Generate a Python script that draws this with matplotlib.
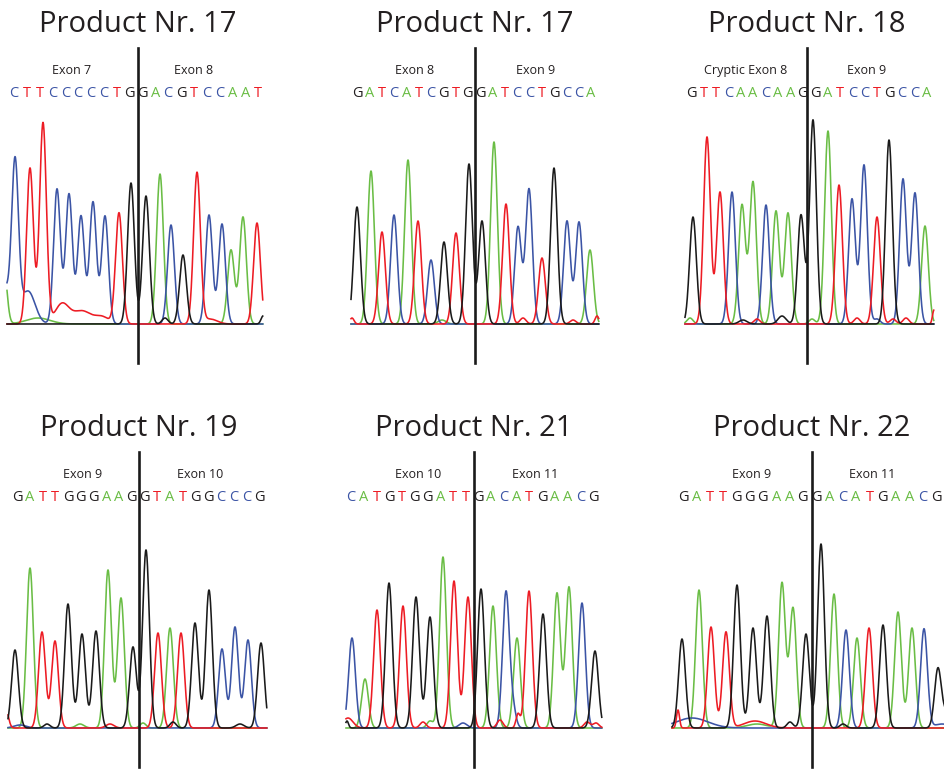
import numpy as np
import matplotlib.pyplot as plt

plt.rcParams['font.family'] = ['Open Sans', 'DejaVu Sans']

# base -> trace colour
colors = {'A': '#6abd45', 'C': '#3b54a5', 'G': '#1a1a1a', 'T': '#ed1c24'}
txt_col = '#231f20'

titles = ['Product Nr. 17', 'Product Nr. 17', 'Product Nr. 18',
          'Product Nr. 19', 'Product Nr. 21', 'Product Nr. 22']
exons = [('Exon 7', 'Exon 8'), ('Exon 8', 'Exon 9'), ('Cryptic Exon 8', 'Exon 9'),
         ('Exon 9', 'Exon 10'), ('Exon 10', 'Exon 11'), ('Exon 9', 'Exon 11')]
seqs = ['CTTCCCCCTGGACGTCCAAT',
        'GATCATCGTGGATCCTGCCA',
        'GTTCAACAAGGATCCTGCCA',
        'GATTGGGAAGGTATGGCCCG',
        'CATGTGGATTGACATGAACG',
        'GATTGGGAAGGACATGAACG']

# peak positions (scan) and heights, one per called base
pos1 = [15, 30, 43, 57, 69, 81, 93, 105, 119, 131, 146, 160, 171, 183, 197, 209, 222, 231, 243, 257]
hgt1 = [160, 156, 201, 135, 130, 108, 122, 108, 111, 141, 128, 150, 99, 69, 151, 109, 100, 74, 107, 101]
pos2 = [37, 51, 62, 74, 88, 98, 111, 124, 136, 149, 162, 174, 186, 198, 209, 222, 234, 247, 259, 270]
hgt2 = [117, 153, 92, 109, 164, 103, 64, 82, 91, 160, 103, 182, 120, 97, 135, 66, 156, 103, 102, 74]
pos3 = [63, 77, 90, 102, 112, 123, 136, 146, 158, 171, 183, 198, 209, 222, 234, 247, 259, 273, 285, 295]
hgt3 = [107, 187, 132, 132, 119, 142, 119, 113, 111, 109, 204, 193, 139, 125, 159, 107, 184, 145, 131, 98]
pos4 = [15, 30, 42, 55, 68, 82, 96, 108, 121, 133, 146, 158, 170, 181, 195, 209, 222, 235, 248, 261]
hgt4 = [78, 160, 96, 87, 124, 94, 97, 158, 130, 81, 178, 95, 100, 95, 105, 138, 79, 101, 88, 85]
pos5 = [32, 45, 57, 69, 83, 96, 110, 123, 134, 148, 161, 173, 186, 197, 209, 223, 237, 249, 262, 275]
hgt5 = [90, 49, 118, 145, 122, 131, 111, 171, 147, 131, 139, 122, 136, 90, 137, 114, 135, 141, 125, 77]
pos6 = [52, 69, 81, 96, 107, 123, 137, 152, 163, 176, 191, 204, 216, 227, 239, 253, 268, 282, 294, 308]
hgt6 = [89, 138, 101, 96, 143, 100, 112, 145, 120, 94, 184, 134, 98, 90, 100, 103, 116, 100, 99, 60]

# background signal: (base, position, height, width)
noise1 = [('C', 28, 33, 7), ('C', 5, 35, 4), ('A', 4, 55, 3), ('A', 38, 6, 12),
          ('T', 62, 20, 7), ('T', 82, 13, 9), ('T', 102, 7, 7), ('G', 165, 6, 3),
          ('T', 210, 5, 7), ('G', 263, 8, 2)]
noise2 = [('T', 32, 6, 2), ('A', 122, 4, 4), ('T', 203, 6, 3), ('T', 253, 4, 3),
          ('T', 277, 8, 2)]
noise3 = [('A', 60, 6, 3), ('G', 113, 4, 4), ('T', 127, 5, 3), ('G', 152, 8, 4),
          ('A', 182, 5, 3), ('T', 227, 6, 3), ('C', 247, 5, 3), ('T', 263, 5, 3),
          ('T', 276, 6, 3), ('T', 304, 14, 1.5)]
noise4 = [('T', 6, 18, 2.5), ('C', 20, 3, 6), ('G', 47, 4, 3), ('A', 80, 4, 4),
          ('T', 110, 4, 4), ('A', 143, 5, 3), ('G', 173, 6, 3), ('G', 240, 4, 4)]
noise5 = [('T', 28, 10, 5), ('G', 27, 7, 1.5), ('T', 103, 6, 3), ('A', 110, 7, 3),
          ('C', 143, 5, 4), ('T', 180, 8, 3), ('C', 193, 18, 3), ('T', 198, 14, 2),
          ('T', 267, 6, 3), ('T', 276, 5, 3)]
noise6 = [('C', 62, 10, 16), ('T', 48, 18, 1.5), ('T', 125, 7, 11), ('A', 127, 4, 10),
          ('G', 160, 6, 3), ('G', 213, 4, 3), ('C', 312, 4, 8), ('G', 316, 14, 3)]

positions = [pos1, pos2, pos3, pos4, pos5, pos6]
heights = [hgt1, hgt2, hgt3, hgt4, hgt5, hgt6]
noises = [noise1, noise2, noise3, noise4, noise5, noise6]

# layout in pixels
W, H = 945, 770
col_x0 = [0, 320, 630]
row_base = [324, 728]
row_top = [0, 404]
row_bot = [369, 770]
trace_span = [(7, 263), (31, 279), (55, 304), (8, 267), (26, 282), (42, 315)]
seq_span = [(14, 258), (37, 271), (61, 297), (17, 259), (31, 273), (53, 306)]
split_x = [138, 155, 177, 139, 154, 182]
exon_x = [(72, 194), (95, 216), (116, 237), (83, 200), (98, 215), (122, 242)]
sigma = 3.4

fig = plt.figure(figsize=(W / 100, H / 100), dpi=100)

for i in range(6):
    r, c = divmod(i, 3)
    x0, base = col_x0[c], row_base[r]
    top, bot = row_top[r], row_bot[r]
    ax = fig.add_axes([x0 / W, 1 - bot / H, 315 / W, (bot - top) / H])
    ax.set_xlim(0, 315)
    ax.set_ylim(base - bot, base - top)
    ax.axis('off')

    xs = np.arange(trace_span[i][0], trace_span[i][1], 0.25)
    for b in 'ACTG':
        y = np.zeros_like(xs)
        for letter, p, h in zip(seqs[i], positions[i], heights[i]):
            if letter == b:
                y += h * np.exp(-(xs - p) ** 2 / (2 * sigma ** 2))
        for nb, p, h, w in noises[i]:
            if nb == b:
                y += h * np.exp(-(xs - p) ** 2 / (2 * w ** 2))
        ax.plot(xs, y, color=colors[b], lw=1.15, solid_joinstyle='round')

    sx = split_x[i]
    ax.plot([sx, sx], [-39, 276], color='#1a1a1a', lw=1.9)
    ax.text(sx, 292, titles[i], ha='center', va='baseline', fontsize=21, color=txt_col)
    ax.text(exon_x[i][0], 250, exons[i][0], ha='center', va='baseline', fontsize=9, color=txt_col)
    ax.text(exon_x[i][1], 250, exons[i][1], ha='center', va='baseline', fontsize=9, color=txt_col)
    lx = np.linspace(seq_span[i][0], seq_span[i][1], len(seqs[i]))
    for x, letter in zip(lx, seqs[i]):
        ax.text(x, 227, letter, ha='center', va='baseline', fontsize=10.5,
                color=colors[letter] if letter != 'G' else txt_col)

fig.savefig('out.png', dpi=100, facecolor='white')
